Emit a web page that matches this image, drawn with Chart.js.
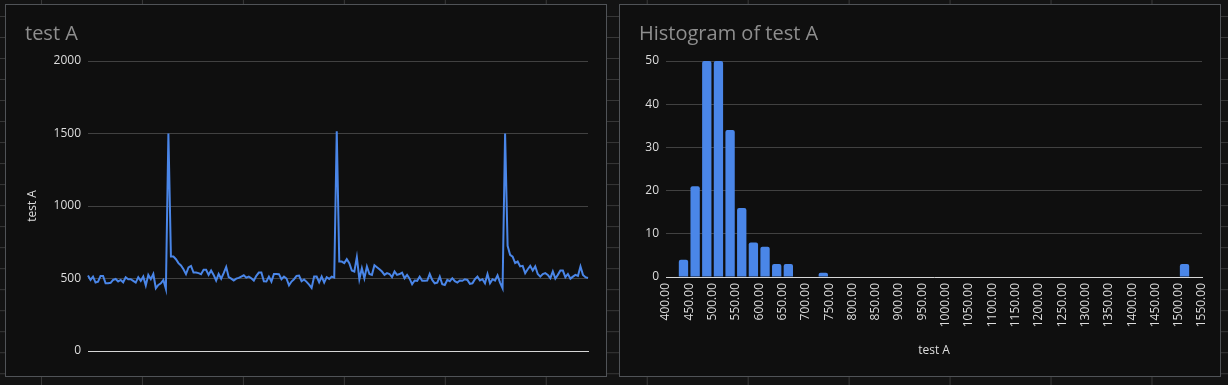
<!DOCTYPE html>
<html>
<head>
<meta charset="utf-8">
<script src="https://cdn.jsdelivr.net/npm/chart.js@4/dist/chart.umd.min.js"></script>
<style>
  html, body { margin: 0; padding: 0; width: 1228px; height: 385px; overflow: hidden; }
  body {
    background-color: #131313;
    background-image:
      linear-gradient(90deg, #383838 1px, transparent 1px),
      linear-gradient(180deg, #383838 1px, transparent 1px);
    background-size: 100.96px 21.02px;
    background-position: 41px 16px;
    position: relative;
    font-family: "Open Sans", sans-serif;
  }
  .panel { position: absolute; box-sizing: border-box; border: 1px solid #505357; background: #0f0f0f; }
  .box { position: absolute; }
</style>
</head>
<body>
<div class="panel" style="left:5px; top:4px; width:602px; height:373px;"></div>
<div class="panel" style="left:619px; top:4px; width:602px; height:373px;"></div>
<div class="box" style="left:25px; top:5px; width:567px; height:371px;"><canvas id="lineChart"></canvas></div>
<div class="box" style="left:639px; top:5px; width:575px; height:371px;"><canvas id="histChart"></canvas></div>
<script>
// ---- data: test A series (200 samples) ----
const sampleIndex = Array.from({length: 200}, (_, i) => String(i + 1));
const testAValues = [
  520, 490, 513, 472, 478, 518, 518, 467, 467, 470, 490, 497, 479, 490, 474, 509, 495, 495, 484, 472,
  509, 484, 513, 452, 525, 495, 531, 433, 456, 467, 490, 428, 1500,
  651, 651, 633, 606, 590, 564, 530, 576, 587, 541, 541, 537, 530, 560, 560, 525, 555, 525, 486, 531,
  499, 537, 579, 509, 499, 486, 499, 504, 513, 522, 506, 513, 502, 486, 518, 541, 541, 481, 479, 513,
  479, 531, 531, 530,
  495, 513, 500, 453, 479, 495, 518, 520, 481, 493, 477, 458, 435, 513, 513, 474, 513, 472, 509, 497,
  513, 506,
  1515,
  617, 617, 606, 633, 606, 555, 548, 647, 495, 571, 502, 583, 531, 525, 592, 578, 564, 548, 525, 537,
  531, 509, 548, 525, 531, 541, 502, 525, 499, 460, 486, 484, 513, 484, 484, 486, 531, 490, 467, 472,
  513,
  460, 455, 490, 481, 502, 481, 472, 486, 484, 495, 490, 463, 467, 495, 513, 486, 495, 467, 531, 467,
  495, 486, 522, 472, 433,
  1500,
  725, 663, 650, 606, 617, 583, 587, 537, 564, 587, 555, 583, 531, 513, 531, 537, 525, 502, 548, 499,
  525, 555, 555, 509, 531, 499, 513, 525, 518, 583, 525, 509, 504
];
const lineYTicks = [0, 500, 1000, 1500, 2000];

// ---- data: histogram of test A (bin width 25) ----
const histBinCenters = [437.5, 462.5, 487.5, 512.5, 537.5, 562.5, 587.5, 612.5, 637.5, 662.5, 737.5, 1512.5];
const histCounts     = [4,     21,    50,    50,    34,    16,    8,     7,     3,     3,     1,     3];
const histXTicks = [400, 450, 500, 550, 600, 650, 700, 750, 800, 850, 900, 950, 1000, 1050, 1100,
                    1150, 1200, 1250, 1300, 1350, 1400, 1450, 1500, 1550];
const histYTicks = [0, 10, 20, 30, 40, 50];

const BLUE = '#4a86e8';
const FONT = "'Open Sans', sans-serif";
const TICK_COLOR = '#dddddd';
const GRID_COLOR = '#414141';
const AXIS_COLOR = '#d6d6d6';
const TITLE_COLOR = '#8e8e8e';
Chart.defaults.font.family = FONT;
Chart.defaults.animation = false;

new Chart(document.getElementById('lineChart'), {
  type: 'line',
  data: {
    labels: sampleIndex,
    datasets: [{
      label: 'test A',
      data: testAValues,
      borderColor: BLUE,
      backgroundColor: BLUE,
      borderWidth: 2,
      pointRadius: 0,
      tension: 0,
      fill: false
    }]
  },
  options: {
    responsive: true,
    maintainAspectRatio: false,
    layout: { padding: { left: 0, right: 4, top: 0, bottom: 0 } },
    plugins: {
      legend: { display: false },
      tooltip: { enabled: false },
      title: {
        display: true, text: 'test A', align: 'start', color: TITLE_COLOR,
        font: { size: 20, weight: 'normal', family: FONT, lineHeight: 1.2 },
        padding: { top: 17, bottom: 15 }
      }
    },
    scales: {
      x: {
        grid: { display: false, drawTicks: false },
        ticks: { display: false },
        border: { display: true, color: AXIS_COLOR, width: 1 },
        afterFit: s => { s.height = 25; s.paddingLeft = 0; s.paddingRight = 0; }
      },
      y: {
        min: 0, max: 2000,
        afterBuildTicks: s => { s.ticks = lineYTicks.map(v => ({ value: v })); },
        grid: { color: GRID_COLOR, lineWidth: 1, drawTicks: false },
        border: { display: false },
        ticks: { color: TICK_COLOR, padding: 7, font: { size: 12, family: FONT }, callback: v => String(v) },
        title: { display: true, text: 'test A', color: TICK_COLOR, font: { size: 12, family: FONT }, padding: { top: 0, bottom: 0 } },
        afterFit: s => { s.width = 63; }
      }
    }
  }
});

new Chart(document.getElementById('histChart'), {
  type: 'bar',
  data: {
    datasets: [{
      label: 'count',
      data: histBinCenters.map((c, i) => ({ x: c, y: histCounts[i] })),
      backgroundColor: BLUE,
      borderWidth: 0,
      borderRadius: { topLeft: 2, topRight: 2, bottomLeft: 0, bottomRight: 0 },
      borderSkipped: 'start',
      barPercentage: 0.8,
      categoryPercentage: 1.0
    }]
  },
  options: {
    responsive: true,
    maintainAspectRatio: false,
    layout: { padding: { left: 0, right: 12, top: 0, bottom: 0 } },
    plugins: {
      legend: { display: false },
      tooltip: { enabled: false },
      title: {
        display: true, text: 'Histogram of test A', align: 'start', color: TITLE_COLOR,
        font: { size: 20, weight: 'normal', family: FONT, lineHeight: 1.2 },
        padding: { top: 17, bottom: 15 }
      }
    },
    scales: {
      x: {
        type: 'linear',
        min: 400, max: 1550,
        offset: false,
        afterBuildTicks: s => { s.ticks = histXTicks.map(v => ({ value: v })); },
        grid: { display: false, drawTicks: false, offset: false },
        border: { display: true, color: AXIS_COLOR, width: 1 },
        ticks: {
          color: TICK_COLOR, padding: 6, autoSkip: false, minRotation: 90, maxRotation: 90,
          font: { size: 12, family: FONT },
          callback: v => Number(v).toFixed(2)
        },
        title: { display: true, text: 'test A', color: TICK_COLOR, font: { size: 12, family: FONT }, padding: { top: 0, bottom: 18 } },
        afterFit: s => { s.height = 99; s.paddingLeft = 0; s.paddingRight = 0; }
      },
      y: {
        min: 0, max: 50,
        afterBuildTicks: s => { s.ticks = histYTicks.map(v => ({ value: v })); },
        grid: { color: GRID_COLOR, lineWidth: 1, drawTicks: false },
        border: { display: false },
        ticks: { color: TICK_COLOR, padding: 7, font: { size: 12, family: FONT } },
        afterFit: s => { s.width = 27; }
      }
    }
  }
});
</script>
</body>
</html>
